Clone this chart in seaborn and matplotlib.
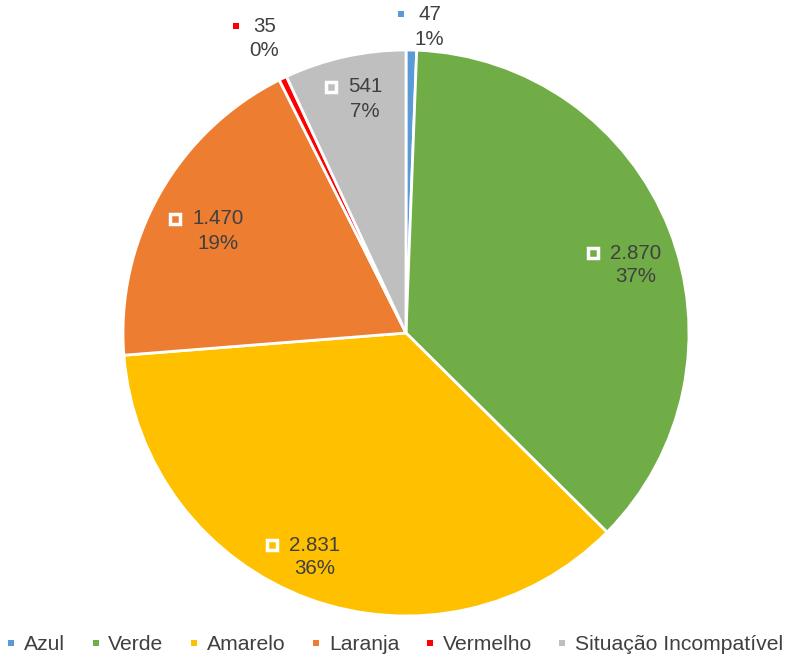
import matplotlib
matplotlib.use('Agg')
import matplotlib.pyplot as plt
import seaborn as sns
import numpy as np
from matplotlib.lines import Line2D

categories = ['Azul', 'Verde', 'Amarelo', 'Laranja', 'Vermelho', 'Situação Incompatível']
values = [47, 2870, 2831, 1470, 35, 541]
value_labels = ['47', '2.870', '2.831', '1.470', '35', '541']
colors = ['#5B9BD5', '#70AD47', '#FFC000', '#ED7D31', '#FF0000', '#BFBFBF']

sns.set_theme(style='white')
plt.rcParams['font.family'] = ['Liberation Sans', 'DejaVu Sans']

TXT = '#404040'
FS = 14.8
LFS = 15.2

fig = plt.figure(figsize=(7.85, 6.59), dpi=100)
ax = fig.add_axes([123 / 785, 43 / 659, 566 / 785, 566 / 659])
wedges, _ = ax.pie(values, colors=colors, startangle=90, counterclock=False,
                   wedgeprops=dict(edgecolor='white', linewidth=2))
ax.set_xlim(-1, 1)
ax.set_ylim(-1, 1)
ax.set_aspect('equal')

total = sum(values)
# layout: (radius, angle offset from wedge middle, inside?, half line gap in pt)
layout = [(1.085, -3.3, False, 9.2), (0.846, -5.05, True, 8.3), (0.854, -2.0, True, 8.5),
          (0.756, 0.94, True, 8.8), (1.156, -0.1, False, 8.6), (0.84, -2.6, True, 8.8)]

val_texts = []
for w, v, lab, col, (r, dth, inside, hg) in zip(wedges, values, value_labels, colors, layout):
    mid = (w.theta1 + w.theta2) / 2 + dth
    x = r * np.cos(np.radians(mid))
    y = r * np.sin(np.radians(mid))
    pct = f"{round(100 * v / total):.0f}%"
    t = ax.annotate(lab, (x, y), xytext=(0, hg), textcoords='offset points',
                    ha='center', va='center', fontsize=FS, color=TXT, annotation_clip=False)
    ax.annotate(pct, (x, y), xytext=(0, -hg), textcoords='offset points',
                ha='center', va='center', fontsize=FS, color=TXT, annotation_clip=False)
    val_texts.append((t, col, inside))

fig.canvas.draw()
renderer = fig.canvas.get_renderer()
inv = ax.transData.inverted()
for t, col, inside in val_texts:
    bb = t.get_window_extent(renderer)
    mx, my = inv.transform((bb.x0 - 17, (bb.y0 + bb.y1) / 2))
    if inside:
        ax.plot([mx], [my], marker='s', ms=7, mfc=col, mec='white', mew=2.5,
                linestyle='none', clip_on=False)
    else:
        ax.plot([mx], [my], marker='s', ms=4.5, mfc=col, mec=col, mew=0,
                linestyle='none', clip_on=False)

handles = [Line2D([0], [0], marker='s', color='none', mfc=c, mec=c, ms=5, mew=0)
           for c in colors]
fig.legend(handles, categories, loc='center', bbox_to_anchor=(0.502, 1 - 645 / 659),
           ncol=6, frameon=False, fontsize=LFS, labelcolor=TXT, handlelength=0.6,
           handletextpad=0.3, columnspacing=1.15, borderaxespad=0)

fig.savefig('out.png', dpi=100, facecolor='white')
